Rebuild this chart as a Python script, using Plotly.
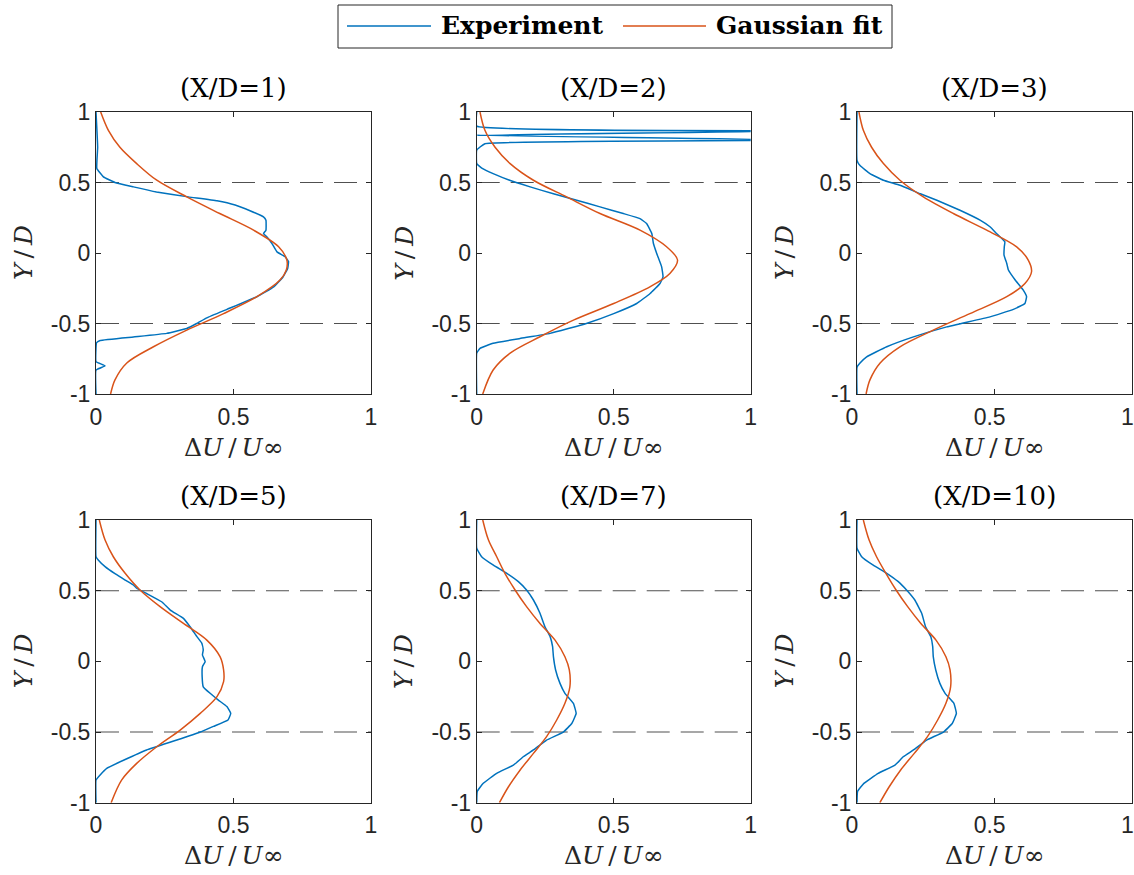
import plotly.graph_objects as go

# ---------------- data ----------------
titles = ["(X/D=1)", "(X/D=2)", "(X/D=3)", "(X/D=5)", "(X/D=7)", "(X/D=10)"]
x_ticks = [0, 0.5, 1]
x_tick_labels = ["0", "0.5", "1"]
y_ticks = [-1, -0.5, 0, 0.5, 1]
y_tick_labels = ["-1", "-0.5", "0", "0.5", "1"]
ref_levels = [0.5, -0.5]

# X/D = 1
exp1_y = [1.0, 0.75, 0.60, 0.54, 0.50, 0.469, 0.433, 0.398, 0.37, 0.34, 0.30, 0.256, 0.233, 0.162, 0.138,
          0.115, 0.067, 0.008, -0.027, -0.06, -0.11, -0.17, -0.24, -0.31, -0.40, -0.46, -0.5, -0.535, -0.57,
          -0.595, -0.62, -0.636, -0.77, -0.80, -0.83, -1.0]
exp1_x = [0.0, 0.006, 0.003, 0.027, 0.069, 0.136, 0.22, 0.336, 0.44, 0.506, 0.56, 0.609, 0.618, 0.618, 0.609,
          0.621, 0.64, 0.658, 0.688, 0.70, 0.697, 0.68, 0.646, 0.585, 0.476, 0.403, 0.366, 0.33, 0.257,
          0.136, 0.015, 0.002, 0.0, 0.033, 0.0, 0.0]
fit1_y = [1.0, 0.87, 0.75, 0.634, 0.516, 0.398, 0.28, 0.162, 0.044, -0.05, -0.12, -0.19, -0.31, -0.43,
          -0.547, -0.665, -0.78, -0.90, -1.0]
fit1_x = [0.017, 0.045, 0.087, 0.148, 0.221, 0.33, 0.45, 0.573, 0.664, 0.694, 0.692, 0.67, 0.585, 0.464,
          0.33, 0.209, 0.112, 0.069, 0.053]

# X/D = 2
exp2_y = [1.0, 0.90, 0.866, 0.835, 0.80, 0.775, 0.73, 0.634, 0.60, 0.563, 0.516, 0.469, 0.42, 0.374, 0.327,
          0.28, 0.244, 0.209, 0.138, 0.067, -0.004, -0.098, -0.17, -0.216, -0.287, -0.358, -0.43, -0.50,
          -0.57, -0.606, -0.64, -0.676, -0.71, -1.0]
exp2_x = [0.0, 0.0, 1.2, 0.0, 1.2, 0.03, 0.0, 0.0, 0.02, 0.06, 0.12, 0.195, 0.28, 0.365, 0.45,
          0.535, 0.596, 0.62, 0.639, 0.645, 0.657, 0.675, 0.68, 0.669, 0.633, 0.584, 0.50, 0.40,
          0.268, 0.158, 0.06, 0.012, 0.0, 0.0]
fit2_y = [1.0, 0.87, 0.75, 0.634, 0.516, 0.398, 0.28, 0.162, 0.044, -0.05, -0.145, -0.24, -0.358, -0.476,
          -0.594, -0.71, -0.83, -1.0]
fit2_x = [0.012, 0.03, 0.067, 0.122, 0.207, 0.328, 0.45, 0.596, 0.693, 0.733, 0.705, 0.632, 0.50, 0.353,
          0.231, 0.122, 0.06, 0.022]

# X/D = 3
exp3_y = [1.0, 0.657, 0.62, 0.563, 0.516, 0.48, 0.42, 0.374, 0.303, 0.233, 0.186, 0.138, 0.079, 0.044,
          -0.015, -0.074, -0.121, -0.19, -0.263, -0.31, -0.358, -0.40, -0.453, -0.524, -0.595, -0.665,
          -0.736, -0.78, -0.81, -1.0]
exp3_x = [0.0, 0.0, 0.011, 0.047, 0.096, 0.156, 0.23, 0.29, 0.374, 0.447, 0.483, 0.507, 0.537, 0.535,
          0.534, 0.544, 0.55, 0.574, 0.604, 0.616, 0.61, 0.568, 0.483, 0.326, 0.205, 0.108,
          0.035, 0.011, 0.0, 0.0]
fit3_y = [1.0, 0.87, 0.75, 0.634, 0.516, 0.398, 0.28, 0.162, 0.044, -0.05, -0.133, -0.216, -0.31, -0.43,
          -0.547, -0.665, -0.78, -0.90, -1.0]
fit3_x = [0.007, 0.023, 0.053, 0.096, 0.156, 0.241, 0.35, 0.471, 0.58, 0.622, 0.634, 0.61, 0.544, 0.41,
          0.277, 0.156, 0.084, 0.047, 0.033]

# X/D = 5
exp5_y = [1.0, 0.74, 0.717, 0.67, 0.62, 0.575, 0.54, 0.517, 0.48, 0.42, 0.363, 0.304, 0.245, 0.175, 0.127,
          0.08, 0.045, -0.002, -0.038, -0.108, -0.18, -0.226, -0.274, -0.32, -0.368, -0.415, -0.46, -0.50,
          -0.557, -0.627, -0.70, -0.757, -0.804, -0.84, -1.0]
exp5_x = [0.0, 0.0, 0.008, 0.033, 0.069, 0.106, 0.136, 0.148, 0.184, 0.24, 0.27, 0.318, 0.342, 0.367, 0.385,
          0.39, 0.387, 0.397, 0.387, 0.386, 0.39, 0.415, 0.445, 0.476, 0.49, 0.48, 0.427, 0.379,
          0.294, 0.184, 0.10, 0.039, 0.015, 0.0, 0.0]
fit5_y = [1.0, 0.858, 0.74, 0.623, 0.505, 0.387, 0.268, 0.15, 0.033, -0.061, -0.144, -0.25, -0.368, -0.486,
          -0.604, -0.722, -0.84, -1.0]
fit5_x = [0.012, 0.033, 0.063, 0.106, 0.16, 0.233, 0.318, 0.403, 0.451, 0.464, 0.464, 0.44, 0.379, 0.306,
          0.221, 0.148, 0.093, 0.055]

# X/D = 7
exp7_y = [1.0, 0.80, 0.74, 0.68, 0.623, 0.564, 0.505, 0.434, 0.34, 0.245, 0.175, 0.104, 0.033, -0.061,
          -0.156, -0.226, -0.297, -0.368, -0.44, -0.50, -0.557, -0.627, -0.675, -0.734, -0.792, -0.863,
          -0.92, -1.0]
exp7_x = [0.0, 0.0, 0.018, 0.061, 0.11, 0.152, 0.182, 0.207, 0.231, 0.249, 0.268, 0.277, 0.28, 0.288,
          0.304, 0.322, 0.353, 0.363, 0.347, 0.316, 0.255, 0.207, 0.17, 0.134, 0.073, 0.024,
          0.002, 0.0]
fit7_y = [1.0, 0.858, 0.74, 0.623, 0.505, 0.387, 0.268, 0.15, 0.033, -0.061, -0.18, -0.297, -0.415, -0.533,
          -0.651, -0.77, -0.887, -1.0]
fit7_x = [0.022, 0.043, 0.073, 0.103, 0.14, 0.182, 0.231, 0.286, 0.322, 0.338, 0.34, 0.322, 0.292, 0.255,
          0.207, 0.158, 0.116, 0.083]

# X/D = 10
exp10_y = [1.0, 0.80, 0.74, 0.68, 0.623, 0.564, 0.505, 0.434, 0.34, 0.245, 0.175, 0.104, 0.033, -0.061,
           -0.156, -0.226, -0.297, -0.368, -0.44, -0.50, -0.557, -0.627, -0.675, -0.734, -0.792, -0.863,
           -0.92, -1.0]
exp10_x = [0.0, 0.0, 0.017, 0.059, 0.108, 0.15, 0.18, 0.21, 0.235, 0.249, 0.268, 0.275, 0.277, 0.286,
           0.301, 0.32, 0.352, 0.361, 0.346, 0.314, 0.253, 0.205, 0.168, 0.138, 0.077, 0.025,
           0.002, 0.0]
fit10_y = [1.0, 0.858, 0.74, 0.623, 0.505, 0.387, 0.268, 0.15, 0.033, -0.061, -0.18, -0.297, -0.415, -0.533,
           -0.651, -0.77, -0.887, -1.0]
fit10_x = [0.023, 0.044, 0.071, 0.105, 0.142, 0.184, 0.232, 0.287, 0.323, 0.338, 0.34, 0.323, 0.293, 0.256,
           0.208, 0.158, 0.117, 0.083]

experiments = [(exp1_x, exp1_y), (exp2_x, exp2_y), (exp3_x, exp3_y),
               (exp5_x, exp5_y), (exp7_x, exp7_y), (exp10_x, exp10_y)]
fits = [(fit1_x, fit1_y), (fit2_x, fit2_y), (fit3_x, fit3_y),
        (fit5_x, fit5_y), (fit7_x, fit7_y), (fit10_x, fit10_y)]

# ---------------- layout ----------------
W, H = 1134, 875
BLUE = "#0072BD"
RED = "#D95319"
AX = "#262626"
col_px = [(96, 371), (476.7, 750.7), (857, 1132.3)]
row_px = [(112, 394), (520, 802.7)]


def px_x(p):
    return p / W


def px_y(p):
    return 1 - p / H


fig = go.Figure()
layout = dict(
    width=W, height=H,
    margin=dict(l=0, r=0, t=0, b=0, pad=0, autoexpand=False),
    paper_bgcolor="white", plot_bgcolor="white",
    showlegend=False,
    font=dict(family="Liberation Sans", color=AX),
)
annotations = []
shapes = []
serif = "DejaVu Serif"
TS = "\u2009"

for i in range(6):
    r, c = divmod(i, 3)
    n = i + 1
    xa = "x" if n == 1 else f"x{n}"
    ya = "y" if n == 1 else f"y{n}"
    xkey = "xaxis" if n == 1 else f"xaxis{n}"
    ykey = "yaxis" if n == 1 else f"yaxis{n}"
    x0p, x1p = col_px[c]
    y0p, y1p = row_px[r]
    common = dict(showline=True, linecolor=AX, linewidth=1, mirror="ticks", ticks="inside",
                  ticklen=5, tickwidth=1, tickcolor=AX, showgrid=False, zeroline=False,
                  automargin=False,
                  tickfont=dict(family="Liberation Sans", size=23, color=AX), fixedrange=True)
    layout[xkey] = dict(domain=[px_x(x0p), px_x(x1p)], range=[0, 1], anchor=ya,
                        tickvals=x_ticks, ticktext=x_tick_labels, ticklabelstandoff=2,
                        ticklabelshift=(-5 if c == 2 else 0), **common)
    layout[ykey] = dict(domain=[px_y(y1p), px_y(y0p)], range=[-1, 1], anchor=xa,
                        tickvals=y_ticks, ticktext=y_tick_labels, **common)

    for lv in ref_levels:
        shapes.append(dict(type="line", xref=xa, yref=ya, x0=0, x1=1, y0=lv, y1=lv,
                           line=dict(color="#505050", width=1.1, dash="23px,11px"), layer="below"))

    ex, ey = experiments[i]
    fx, fy = fits[i]
    fig.add_trace(go.Scatter(x=ex, y=ey, mode="lines", xaxis=xa, yaxis=ya, name="Experiment",
                             line=dict(color=BLUE, width=1.5, shape="spline", smoothing=0.3)))
    fig.add_trace(go.Scatter(x=fx, y=fy, mode="lines", xaxis=xa, yaxis=ya, name="Gaussian fit",
                             line=dict(color=RED, width=1.5, shape="spline", smoothing=0.9)))

    cx = px_x((x0p + x1p) / 2)
    annotations.append(dict(text=titles[i], xref="paper", yref="paper", x=cx, y=px_y(y0p - 24),
                            xanchor="center", yanchor="middle", showarrow=False,
                            font=dict(family=serif, size=26, color="black")))
    annotations.append(dict(text="Δ<i>U</i>" + TS + "/" + TS + "<i>U</i>∞",
                            xref="paper", yref="paper", x=cx,
                            y=px_y(y1p + 53), xanchor="center", yanchor="middle", showarrow=False,
                            font=dict(family=serif, size=25, color=AX)))
    annotations.append(dict(text="<i>Y</i>" + TS + "/" + TS + "<i>D</i>", xref="paper", yref="paper",
                            x=px_x(x0p - 73), y=px_y((y0p + y1p) / 2), textangle=-90,
                            xanchor="center", yanchor="middle", showarrow=False,
                            font=dict(family=serif, size=25, color=AX)))

# manual legend (MATLAB style box)
shapes.append(dict(type="rect", xref="paper", yref="paper", x0=px_x(338), x1=px_x(892),
                   y0=px_y(48), y1=px_y(5), line=dict(color=AX, width=1), fillcolor="white"))
shapes.append(dict(type="line", xref="paper", yref="paper", x0=px_x(347), x1=px_x(431),
                   y0=px_y(26), y1=px_y(26), line=dict(color=BLUE, width=1.5)))
shapes.append(dict(type="line", xref="paper", yref="paper", x0=px_x(623), x1=px_x(706),
                   y0=px_y(26), y1=px_y(26), line=dict(color=RED, width=1.5)))
annotations.append(dict(text="<b>Experiment</b>", xref="paper", yref="paper", x=px_x(439),
                        y=px_y(25), xanchor="left", yanchor="middle", showarrow=False,
                        font=dict(family=serif, size=25, color="black")))
annotations.append(dict(text="<b>Gaussian fit</b>", xref="paper", yref="paper", x=px_x(714),
                        y=px_y(25), xanchor="left", yanchor="middle", showarrow=False,
                        font=dict(family=serif, size=25, color="black")))

layout["annotations"] = annotations
layout["shapes"] = shapes
fig.update_layout(**layout)
fig.write_html(
    "out.html",
    config={"displayModeBar": False},
    post_script="document.body.style.margin='0';document.body.style.overflow='hidden';",
)
